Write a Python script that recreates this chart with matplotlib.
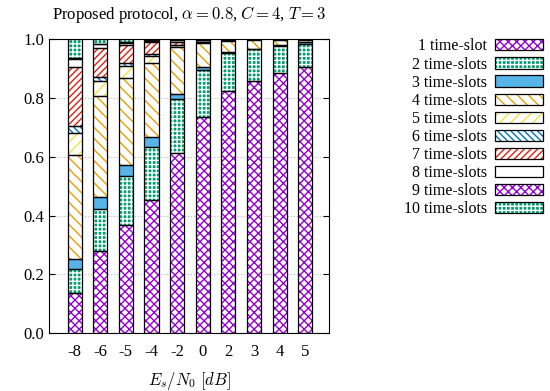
import matplotlib
import matplotlib.pyplot as plt
from matplotlib.patches import Patch
from matplotlib.legend_handler import HandlerTuple

matplotlib.use('Agg')

plt.rcParams['font.family'] = ['Liberation Serif', 'DejaVu Serif']
plt.rcParams['mathtext.fontset'] = 'cm'
plt.rcParams['hatch.linewidth'] = 1.0

snr = ['-8', '-6', '-5', '-4', '-2', '0', '2', '3', '4', '5']

# fraction of packets needing k time-slots, one list per k
slot1 = [0.138, 0.281, 0.369, 0.454, 0.613, 0.735, 0.825, 0.859, 0.886, 0.908]
slot2 = [0.081, 0.142, 0.167, 0.181, 0.186, 0.162, 0.128, 0.107, 0.091, 0.075]
slot3 = [0.034, 0.040, 0.036, 0.032, 0.017, 0.011, 0.003, 0.002, 0.003, 0.007]
slot4 = [0.354, 0.344, 0.298, 0.254, 0.158, 0.080, 0.040, 0.030, 0.018, 0.009]
slot5 = [0.073, 0.052, 0.041, 0.024, 0.006, 0.002, 0.002, 0.002, 0.002, 0.001]
slot6 = [0.026, 0.013, 0.008, 0.006, 0.002, 0.001, 0.000, 0.000, 0.000, 0.000]
slot7 = [0.202, 0.100, 0.063, 0.039, 0.010, 0.002, 0.001, 0.000, 0.000, 0.000]
slot8 = [0.025, 0.011, 0.007, 0.005, 0.005, 0.004, 0.001, 0.000, 0.000, 0.000]
slot9 = [0.005, 0.002, 0.003, 0.002, 0.001, 0.002, 0.000, 0.000, 0.000, 0.000]
slot10 = [0.062, 0.015, 0.008, 0.003, 0.002, 0.001, 0.000, 0.000, 0.000, 0.000]

series = [slot1, slot2, slot3, slot4, slot5, slot6, slot7, slot8, slot9, slot10]
labels = ['1 time-slot'] + ['%d time-slots' % k for k in range(2, 11)]

purple = '#9400d3'
green = '#009e73'
# (facecolor, hatch colour, hatch)
styles = [
    ('white', purple, 'xxxx'),
    (green, 'white', '++++'),
    ('#56b4e9', '#56b4e9', None),
    ('white', '#e69f00', '\\\\\\'),
    ('white', '#f0e442', '///'),
    ('white', '#0072b2', '\\\\\\\\\\'),
    ('white', '#e51e10', '/////'),
    ('white', 'white', None),
    ('white', purple, 'xxxx'),
    (green, 'white', '++++'),
]

fig = plt.figure(figsize=(5.5, 3.91), dpi=100)
ax = fig.add_axes([0.089, 0.148, 0.509, 0.751])

x = list(range(len(snr)))
width = 0.55
bottom = [0.0] * len(snr)
handles = []
for vals, (fc, hc, hatch) in zip(series, styles):
    ax.bar(x, vals, width, bottom=bottom, color=fc, edgecolor=hc,
           hatch=hatch, linewidth=0, zorder=2)
    ax.bar(x, vals, width, bottom=bottom, fill=False, edgecolor='black',
           linewidth=0.9, zorder=3)
    bottom = [b + v for b, v in zip(bottom, vals)]
    handles.append((Patch(facecolor=fc, edgecolor=hc, hatch=hatch, linewidth=0),
                    Patch(fill=False, edgecolor='black', linewidth=0.9)))

ax.set_xlim(-1.0, 9.92)
ax.set_ylim(0, 1.0)
ax.set_xticks(x)
ax.set_xticklabels(snr)
ax.set_yticks([0.0, 0.2, 0.4, 0.6, 0.8, 1.0])
ax.set_yticklabels(['0.0', '0.2', '0.4', '0.6', '0.8', '1.0'])
ax.tick_params(axis='y', direction='in', right=True, length=4, labelsize=12)
ax.tick_params(axis='x', length=0, labelsize=12, pad=8)
ax.yaxis.grid(True, color='#bbbbbb', linestyle=':', linewidth=0.8, zorder=0)
ax.set_axisbelow(True)

ax.set_xlabel(r'$E_s/N_0\ [dB]$', fontsize=12, labelpad=7)
ax.set_title(r'Proposed protocol, $\alpha = 0.8$, $C = 4$, $T = 3$',
             fontsize=12, pad=15)

fig.legend(handles, labels, handler_map={tuple: HandlerTuple(ndivide=1, pad=0)},
           loc='upper right', bbox_to_anchor=(1.0, 0.92), frameon=False,
           markerfirst=False, fontsize=11.5, handlelength=3.0, handleheight=0.7,
           labelspacing=0.13, handletextpad=0.5, borderaxespad=0.05)

plt.savefig('out.png', dpi=100)
